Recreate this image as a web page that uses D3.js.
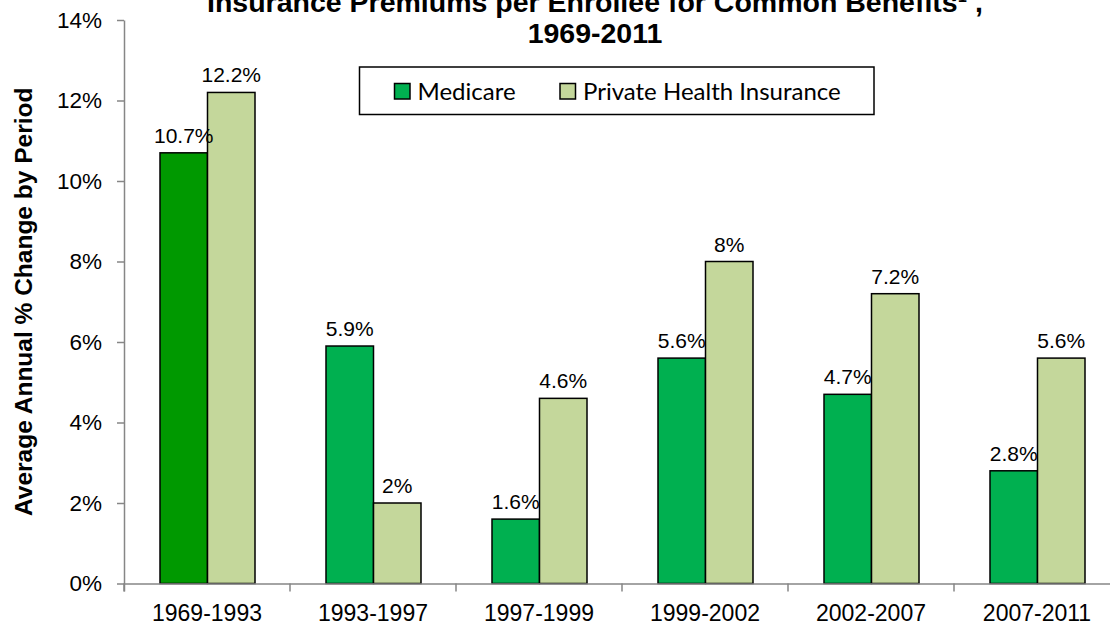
<!DOCTYPE html>
<meta charset="utf-8">
<style>
  body { margin: 0; background: #fff; }
  svg { display: block; }
</style>
<div id="chartarea"></div>
<script src="https://cdn.jsdelivr.net/npm/d3@7"></script>
<script>

// data
var periods = ["1969-1993", "1993-1997", "1997-1999", "1999-2002", "2002-2007", "2007-2011"];
var seriesNames = ["Medicare", "Private Health Insurance"];
var medicare = [10.7, 5.9, 1.6, 5.6, 4.7, 2.8];
var privateIns = [12.2, 2, 4.6, 8, 7.2, 5.6];
var yTicks = [0, 2, 4, 6, 8, 10, 12, 14];
var titleLines = ["Insurance Premiums per Enrollee for Common Benefits\u00b9 ,", "1969-2011"];

var colorMed = "#00b050", colorMedFirst = "#009900", colorPriv = "#c4d79b";
var axisGrey = "#868686";

var svg = d3.select("#chartarea").append("svg")
    .attr("width", 1110)
    .attr("height", 625);

// scales
var xCat = d3.scaleBand()
    .domain(periods)
    .range([124, 1120]);

var xBar = d3.scaleBand()
    .domain(seriesNames)
    .range([36, 131]);

var y = d3.scaleLinear()
    .domain([0, 14])
    .range([583.5, 20]);

// title (top line is cut off by the frame, as in the original)
svg.append("g").selectAll("text")
  .data(titleLines)
  .enter().append("text")
    .attr("x", 595)
    .attr("y", function(d, i) { return 12 + i * 31; })
    .attr("text-anchor", "middle")
    .style("font", "bold 28.5px 'Liberation Sans', Arial, sans-serif")
    .attr("fill", "#000")
    .text(function(d) { return d; });

// bars
var rows = periods.map(function(p, i) {
  return {period: p, i: i, values: [
    {name: seriesNames[0], value: medicare[i]},
    {name: seriesNames[1], value: privateIns[i]}
  ]};
});

var groups = svg.append("g").selectAll("g")
  .data(rows)
  .enter().append("g")
    .attr("transform", function(d) { return "translate(" + xCat(d.period) + ",0)"; });

groups.selectAll("rect")
  .data(function(d) { return d.values.map(function(v) { v.i = d.i; return v; }); })
  .enter().append("rect")
    .attr("x", function(d) { return xBar(d.name); })
    .attr("width", xBar.bandwidth())
    .attr("y", function(d) { return y(d.value); })
    .attr("height", function(d) { return y(0) - y(d.value); })
    .attr("fill", function(d) {
      if (d.name === seriesNames[1]) return colorPriv;
      return d.i === 0 ? colorMedFirst : colorMed;
    })
    .attr("stroke", "#000")
    .attr("stroke-width", 1.5);

groups.selectAll("text")
  .data(function(d) { return d.values; })
  .enter().append("text")
    .attr("x", function(d) { return xBar(d.name) + xBar.bandwidth() / 2; })
    .attr("y", function(d) { return y(d.value) - 10; })
    .attr("text-anchor", "middle")
    .style("font", "21px 'Liberation Sans', Arial, sans-serif")
    .attr("fill", "#000")
    .text(function(d) { return d.value + "%"; });

// y axis
var yAxis = svg.append("g")
    .attr("transform", "translate(124,0)")
    .call(d3.axisLeft(y)
      .tickValues(yTicks)
      .tickSize(7)
      .tickSizeOuter(0)
      .tickPadding(15)
      .tickFormat(function(d) { return d + "%"; }));

yAxis.selectAll("text")
    .style("font", "22.5px 'Liberation Sans', Arial, sans-serif")
    .attr("fill", "#000");
yAxis.selectAll("line, path")
    .attr("stroke", axisGrey)
    .attr("stroke-width", 1.5);

// x axis: labels centred, ticks on category boundaries
var xAxis = svg.append("g")
    .attr("transform", "translate(0," + y(0) + ")")
    .call(d3.axisBottom(xCat)
      .tickSize(0)
      .tickSizeOuter(8)
      .tickPadding(21));

xAxis.selectAll("text")
    .style("font", "23px 'Liberation Sans', Arial, sans-serif")
    .attr("fill", "#000");
xAxis.select(".domain")
    .attr("stroke", axisGrey)
    .attr("stroke-width", 1.5);

xAxis.selectAll(".bound")
  .data(periods)
  .enter().append("line")
    .attr("class", "bound")
    .attr("x1", function(d) { return xCat(d); })
    .attr("x2", function(d) { return xCat(d); })
    .attr("y1", 0)
    .attr("y2", 8)
    .attr("stroke", axisGrey)
    .attr("stroke-width", 1.5);

// y axis title
svg.append("text")
    .attr("transform", "translate(31.5," + ((y(0) + y(14)) / 2) + ") rotate(-90)")
    .attr("text-anchor", "middle")
    .style("font", "bold 24.5px 'Liberation Sans', Arial, sans-serif")
    .attr("fill", "#000")
    .text("Average Annual % Change by Period");

// legend
var legend = svg.append("g").attr("class", "legend");

legend.append("rect")
    .attr("x", 359.5)
    .attr("y", 67)
    .attr("width", 514.5)
    .attr("height", 47.5)
    .attr("fill", "#fff")
    .attr("stroke", "#000")
    .attr("stroke-width", 1.5);

var legendX = [394.5, 560];
var legendColors = [colorMed, colorPriv];

var items = legend.selectAll(".item")
  .data(seriesNames)
  .enter().append("g")
    .attr("class", "item")
    .attr("transform", function(d, i) { return "translate(" + legendX[i] + ",83.5)"; });

items.append("rect")
    .attr("width", 15.5)
    .attr("height", 15.5)
    .attr("fill", function(d, i) { return legendColors[i]; })
    .attr("stroke", "#000")
    .attr("stroke-width", 1.5);

items.append("text")
    .attr("x", 23)
    .attr("y", 16)
    .style("font", "24px Lato, 'Noto Sans', sans-serif")
    .attr("fill", "#000")
    .text(function(d) { return d; });

</script>
